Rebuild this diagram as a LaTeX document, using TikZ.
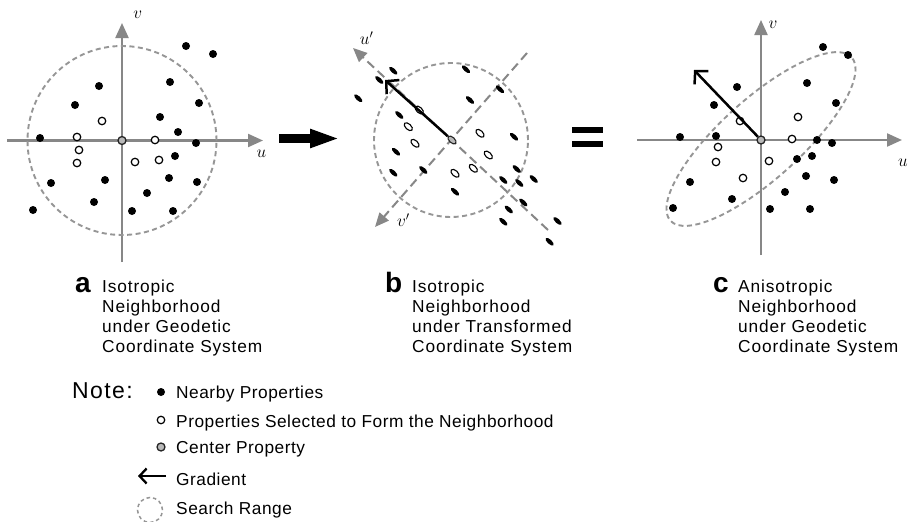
\documentclass[tikz,border=0pt]{standalone}
\usepackage{fontspec}
\setmainfont{Liberation Sans}
\newfontfamily\capfont{Liberation Sans}[LetterSpace=5]
\newfontfamily\legfont{Liberation Sans}[LetterSpace=3]
\newfontfamily\notefont{Liberation Sans}[LetterSpace=6]
\usetikzlibrary{arrows.meta,shapes.geometric}
\definecolor{axisgray}{RGB}{135,135,135}
\definecolor{dashgray}{RGB}{150,150,150}
\tikzset{
 axisline/.style={draw=axisgray, line width=2.2pt, -{Triangle[length=15pt,width=13pt]}},
 primeaxis/.style={draw=axisgray, line width=2pt, dash pattern=on 9pt off 5pt, -{Triangle[length=14pt,width=12pt]}},
 searchrange/.style={draw=dashgray, line width=1.9pt, dash pattern=on 5pt off 3.5pt},
 nearby/.style={circle, fill=black, inner sep=0pt, minimum size=8pt},
 selected/.style={circle, draw=black, fill=white, line width=1.2pt, inner sep=0pt, minimum size=7.5pt},
 centerprop/.style={circle, draw=black!85, fill=gray!55, line width=1.3pt, inner sep=0pt, minimum size=8pt},
 tnearby/.style={ellipse, fill=black, inner sep=0pt, minimum width=10.5pt, minimum height=4.4pt, rotate=-43},
 tselected/.style={ellipse, draw=black, fill=white, line width=1.1pt, inner sep=0pt, minimum width=10pt, minimum height=5.5pt, rotate=-43},
 tcenter/.style={ellipse, draw=black!85, fill=gray!55, line width=1.1pt, inner sep=0pt, minimum width=10pt, minimum height=5.5pt, rotate=-43},
 gradient/.style={draw=black, line width=2.5pt, -{Straight Barb[length=9pt,width=19pt]}},
 axislabel/.style={font=\fontsize{18}{18}\selectfont, inner sep=0pt},
 panelletter/.style={font=\fontsize{28}{28}\selectfont\bfseries, anchor=base west, inner sep=0pt},
 captionline/.style={font=\capfont\fontsize{17.3}{17.3}\selectfont, anchor=base west, inner sep=0pt},
 legendline/.style={font=\legfont\fontsize{17.3}{17.3}\selectfont, anchor=base west, inner sep=0pt},
}
\begin{document}
\begin{tikzpicture}[x=1pt,y=-1pt]
\useasboundingbox[fill=white] (0,0) rectangle (914,522);

% ---------- panel a ----------
\coordinate (aL) at (7,140.5);
\coordinate (aR) at (263,140.5);
\coordinate (aB) at (122,262);
\coordinate (aT) at (122,23);
\draw[axisline] (aL) -- (aR);
\draw[axisline] (aB) -- (aT);
\draw[searchrange] (122,140.5) circle[radius=94.5pt];
\foreach \p [count=\i] in {(186,46),(213,54),(170,82),(99,86),(75,105),(199,103),(160,117),(178,132),(40,138),(196,143),(175,156),(51,183),(105,180),(169,178),(197,182),(147,193),(94,202),(33,210),(132,211),(173,211)}
  \node[nearby] (an\i) at \p {};
\foreach \p [count=\i] in {(102,121),(77,137),(79,150),(77,163),(155,140),(135,162),(159,160)}
  \node[selected] (as\i) at \p {};
\node[centerprop] (aO) at (122,140.5) {};
\node[axislabel] (av) at (137.7,15) {$v$};
\node[axislabel] (au) at (261.5,154) {$u$};

% ---------- arrow a -> b ----------
\coordinate (arrS) at (279,138.5);
\coordinate (arrE) at (340,138.5);
\draw[line width=9pt, -{Triangle[length=30pt,width=17pt]}] (arrS) -- (arrE);

% ---------- panel b ----------
\coordinate (bU0) at (548,230);
\coordinate (bU1) at (353,48);
\coordinate (bV0) at (527,53);
\coordinate (bV1) at (375,227);
\draw[searchrange] (451,140) circle[radius=77pt];
\draw[primeaxis] (bU0) -- (bU1);
\draw[primeaxis] (bV0) -- (bV1);
\foreach \p [count=\i] in {(393.3,70.7),(379.3,80),(466,69.3),(500,89.3),(358.3,98.3),(470,100),(399.3,115),(514,136.7),(396,151.7),(393.3,172.7),(423.3,170),(503.3,180),(516.7,169),(533.7,179),(519.3,183),(455,191.7),(523.3,202.5),(508.8,209.5),(503.3,221.7),(557.5,221),(549.6,241.7)}
  \node[tnearby] (bn\i) at \p {};
\foreach \p [count=\i] in {(419.3,110),(408.3,126.7),(415,143.3),(480,133.3),(488.3,155),(473.3,168.3),(455,173.3)}
  \node[tselected] (bs\i) at \p {};
\node[tcenter] (bO) at (452,140) {};
\coordinate (bG) at (385,80);
\draw[gradient] (bO) -- (bG);
\node[axislabel] (bu) at (366.7,38.3) {$u'$};
\node[axislabel] (bv) at (403.3,220) {$v'$};

% ---------- equals ----------
\fill (572,127) rectangle (603,133);
\fill (572,140.5) rectangle (603,146.5);

% ---------- panel c ----------
\coordinate (cL) at (637,140);
\coordinate (cR) at (902,140);
\coordinate (cB) at (761,255);
\coordinate (cT) at (761,20);
\draw[axisline] (cL) -- (cR);
\draw[axisline] (cB) -- (cT);
\draw[searchrange, shift={(761,139)}, rotate=42] (0,0) ellipse [x radius=122pt, y radius=40pt];
\foreach \p [count=\i] in {(823,47),(848,55),(807,83),(737,87),(714,105),(836,103),(680,137),(716,136),(817,140),(832,143),(797,159),(812,156),(690,182),(806,176),(834,180),(785,192),(732,199),(673,208),(770,209),(810,209)}
  \node[nearby] (cn\i) at \p {};
\foreach \p [count=\i] in {(740,121),(798,117),(792,139),(718,147),(716,162),(769,161),(743,178)}
  \node[selected] (cs\i) at \p {};
\node[centerprop] (cO) at (761,140) {};
\coordinate (cG) at (694,70);
\draw[gradient] (cO) -- (cG);
\node[axislabel] (cv) at (773,25) {$v$};
\node[axislabel] (cu) at (903,163) {$u$};

% ---------- captions ----------
\node[panelletter] (la) at (75,292) {a};
\node[captionline] at (102,292) {Isotropic};
\node[captionline] at (102,312) {Neighborhood};
\node[captionline] at (102,332) {under Geodetic};
\node[captionline] at (102,352) {Coordinate System};

\node[panelletter] (lb) at (385,292) {b};
\node[captionline] at (412,292) {Isotropic};
\node[captionline] at (412,312) {Neighborhood};
\node[captionline] at (412,332) {under Transformed};
\node[captionline] at (412,352) {Coordinate System};

\node[panelletter] (lc) at (713,292) {c};
\node[captionline] at (738,292) {Anisotropic};
\node[captionline] at (738,312) {Neighborhood};
\node[captionline] at (738,332) {under Geodetic};
\node[captionline] at (738,352) {Coordinate System};

% ---------- legend ----------
\node[font=\notefont\fontsize{23}{23}\selectfont, anchor=base west, inner sep=0pt] (note) at (72,398) {Note:};
\node[nearby] (k1) at (161,392) {};
\node[selected] (k2) at (161,420) {};
\node[centerprop] (k3) at (161,447) {};
\coordinate (k4a) at (166,476);
\coordinate (k4b) at (138,476);
\draw[draw=black, line width=2.3pt, -{Straight Barb[length=7pt,width=15pt]}] (k4a) -- (k4b);
\draw[draw=dashgray, line width=1.5pt, dash pattern=on 3.5pt off 3pt] (150,510) circle[radius=12.5pt];
\node[legendline] at (176,398) {Nearby Properties};
\node[legendline] at (176,427) {Properties Selected to Form the Neighborhood};
\node[legendline] at (176,453) {Center Property};
\node[legendline] at (176,485) {Gradient};
\node[legendline] at (176,514) {Search Range};
\end{tikzpicture}
\end{document}
